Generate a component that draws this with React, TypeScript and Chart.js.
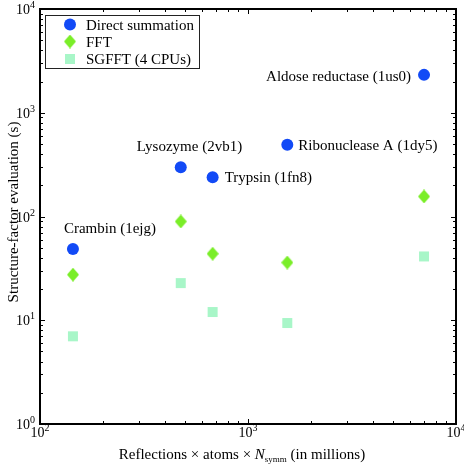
import React, { useEffect, useRef } from 'react';
import { Chart, registerables } from 'chart.js';

Chart.register(...registerables);

// ---- data ----
const proteins = ['Crambin (1ejg)', 'Lysozyme (2vb1)', 'Trypsin (1fn8)', 'Ribonuclease A (1dy5)', 'Aldose reductase (1us0)'];
const workload = [144, 475, 676, 1545, 7020]; // reflections × atoms × Nsymm (millions)
const directSummation = [48.5, 298, 239, 492, 2318];
const fft = [27.5, 89.5, 43.8, 36, 156];
const sgfft = [7.0, 22.8, 12.0, 9.4, 41.2];

const seriesNames = ['Direct summation', 'FFT', 'SGFFT (4 CPUs)'];

const xDecades = [100, 1000, 10000];
const xExponents = ['2', '3', '4'];
const yDecades = [1, 10, 100, 1000, 10000];
const yExponents = ['0', '1', '2', '3', '4'];
const minorSteps = [2, 3, 4, 5, 6, 7, 8, 9];

const yTitle = 'Structure-factor evaluation (s)';
const xTitleParts = [
  { text: 'Reflections × atoms × ', style: 'normal' },
  { text: 'N', style: 'italic' },
  { text: 'symm', style: 'sub' },
  { text: ' (in millions)', style: 'normal' },
];

// ---- styles ----
const FONT = '"Liberation Serif", "Times New Roman", serif';
const BLUE = 'rgb(18,74,246)';
const GREEN = 'rgb(122,238,40)';
const MINT = 'rgb(168,246,200)';

const labelPlacement = [
  { dx: -9, dy: -21, align: 'left' },
  { dx: -44, dy: -21, align: 'left' },
  { dx: 12, dy: 0, align: 'left' },
  { dx: 11, dy: 0, align: 'left' },
  { dx: -13, dy: 1, align: 'right' },
];

function makeDiamond(color: string) {
  const c = document.createElement('canvas');
  c.width = 12;
  c.height = 14;
  const g = c.getContext('2d')!;
  g.fillStyle = color;
  g.beginPath();
  g.moveTo(6, 0);
  g.lineTo(12, 7);
  g.lineTo(6, 14);
  g.lineTo(0, 7);
  g.closePath();
  g.fill();
  return c;
}

function drawPow(ctx: CanvasRenderingContext2D, exp: string, x: number, baseY: number, align: 'center' | 'right', supRaise: number) {
  ctx.font = `14px ${FONT}`;
  const w1 = ctx.measureText('10').width;
  ctx.font = `10px ${FONT}`;
  const w2 = ctx.measureText(exp).width;
  const total = w1 + w2;
  const start = align === 'center' ? x - total / 2 : x - total;
  ctx.textAlign = 'left';
  ctx.textBaseline = 'alphabetic';
  ctx.font = `14px ${FONT}`;
  ctx.fillText('10', start, baseY);
  ctx.font = `10px ${FONT}`;
  ctx.fillText(exp, start + w1, baseY - supRaise);
}

const overlay = {
  id: 'overlay',
  afterDraw(chart: any) {
    const { ctx, chartArea: a, scales } = chart;
    const xs = scales.x;
    const ys = scales.y;
    ctx.save();
    ctx.fillStyle = '#000';
    ctx.strokeStyle = '#000';

    // tick marks (inward, all four sides)
    ctx.lineWidth = 1;
    const majorLen = 5;
    const minorLen = 3;
    const xTicks: { v: number; major: boolean }[] = [];
    xDecades.forEach((d) => {
      xTicks.push({ v: d, major: true });
      minorSteps.forEach((m) => {
        if (d * m < xDecades[xDecades.length - 1]) xTicks.push({ v: d * m, major: false });
      });
    });
    const yTicks: { v: number; major: boolean }[] = [];
    yDecades.forEach((d) => {
      yTicks.push({ v: d, major: true });
      minorSteps.forEach((m) => {
        if (d * m < yDecades[yDecades.length - 1]) yTicks.push({ v: d * m, major: false });
      });
    });
    ctx.beginPath();
    xTicks.forEach((t) => {
      const px = Math.round(xs.getPixelForValue(t.v)) + 0.5;
      const len = t.major ? majorLen : minorLen;
      ctx.moveTo(px, a.bottom);
      ctx.lineTo(px, a.bottom - len);
      ctx.moveTo(px, a.top);
      ctx.lineTo(px, a.top + len);
    });
    yTicks.forEach((t) => {
      const py = Math.round(ys.getPixelForValue(t.v)) + 0.5;
      const len = t.major ? majorLen : minorLen;
      ctx.moveTo(a.left, py);
      ctx.lineTo(a.left + len, py);
      ctx.moveTo(a.right, py);
      ctx.lineTo(a.right - len, py);
    });
    ctx.stroke();

    // frame
    ctx.lineWidth = 2;
    ctx.strokeRect(a.left, a.top, a.right - a.left, a.bottom - a.top);

    // tick labels
    xDecades.forEach((d, i) => {
      drawPow(ctx, xExponents[i], xs.getPixelForValue(d), a.bottom + 13, 'center', 6);
    });
    yDecades.forEach((d, i) => {
      drawPow(ctx, yExponents[i], a.left - 5, ys.getPixelForValue(d) + 5, 'right', 6);
    });

    // axis titles
    ctx.textBaseline = 'alphabetic';
    ctx.textAlign = 'left';
    const widths = xTitleParts.map((p) => {
      ctx.font = p.style === 'sub' ? `9px ${FONT}` : p.style === 'italic' ? `italic 15px ${FONT}` : `15px ${FONT}`;
      return ctx.measureText(p.text).width;
    });
    const totalW = widths.reduce((s, w) => s + w, 0);
    let cx = (a.left + a.right) / 2 - 6 - totalW / 2;
    const tb = 459;
    xTitleParts.forEach((p, i) => {
      ctx.font = p.style === 'sub' ? `9px ${FONT}` : p.style === 'italic' ? `italic 15px ${FONT}` : `15px ${FONT}`;
      ctx.fillText(p.text, cx, p.style === 'sub' ? tb + 3 : tb);
      cx += widths[i];
    });

    ctx.save();
    ctx.translate(18, 212);
    ctx.rotate(-Math.PI / 2);
    ctx.font = `15px ${FONT}`;
    ctx.textAlign = 'center';
    ctx.fillText(yTitle, 0, 0);
    ctx.restore();

    // point annotations
    ctx.font = `15px ${FONT}`;
    proteins.forEach((name, i) => {
      const px = xs.getPixelForValue(workload[i]);
      const py = ys.getPixelForValue(directSummation[i]);
      const p = labelPlacement[i];
      ctx.textAlign = p.align;
      ctx.fillText(name, px + p.dx, py + p.dy + 5);
    });

    // legend
    const lx = 45.5, ly = 15.5, lw = 154, lh = 53;
    ctx.fillStyle = '#fff';
    ctx.fillRect(lx, ly, lw, lh);
    ctx.lineWidth = 1;
    ctx.strokeStyle = '#222';
    ctx.strokeRect(lx, ly, lw, lh);
    const ds = chart.data.datasets;
    const rows = [24.5, 41.5, 59];
    ctx.font = `15px ${FONT}`;
    ctx.textAlign = 'left';
    seriesNames.forEach((n, i) => {
      const mx = 70;
      const my = rows[i];
      const d = ds[i];
      if (d.pointStyle === 'circle') {
        ctx.fillStyle = d.backgroundColor;
        ctx.beginPath();
        ctx.arc(mx, my, d.pointRadius, 0, Math.PI * 2);
        ctx.fill();
      } else if (d.pointStyle === 'rect') {
        ctx.fillStyle = d.backgroundColor;
        const s = d.pointRadius * Math.SQRT1_2;
        ctx.fillRect(mx - s, my - s, 2 * s, 2 * s);
      } else {
        const img = d.pointStyle as HTMLCanvasElement;
        ctx.drawImage(img, mx - img.width / 2, my - img.height / 2);
      }
      ctx.fillStyle = '#000';
      ctx.fillText(n, 86, my + 5);
    });

    ctx.restore();
  },
};

export default function App() {
  const ref = useRef<HTMLCanvasElement>(null);
  useEffect(() => {
    document.body.style.margin = '0';
    const canvas = ref.current!;
    const diamond = makeDiamond(GREEN);
    const chart = new Chart(canvas, {
      type: 'scatter',
      data: {
        datasets: [
          {
            label: seriesNames[0],
            data: workload.map((x, i) => ({ x, y: directSummation[i] })),
            pointStyle: 'circle',
            pointRadius: 6,
            backgroundColor: BLUE,
            borderWidth: 0,
          },
          {
            label: seriesNames[1],
            data: workload.map((x, i) => ({ x, y: fft[i] })),
            pointStyle: diamond as any,
            pointRadius: 7,
            backgroundColor: GREEN,
            borderWidth: 0,
          },
          {
            label: seriesNames[2],
            data: workload.map((x, i) => ({ x, y: sgfft[i] })),
            pointStyle: 'rect',
            pointRadius: 7.07,
            backgroundColor: MINT,
            borderWidth: 0,
          },
        ],
      },
      options: {
        responsive: false,
        animation: false,
        events: [],
        layout: { padding: { top: 9, right: 8, left: 0, bottom: 0 } },
        plugins: { legend: { display: false }, tooltip: { enabled: false } },
        scales: {
          x: {
            type: 'logarithmic',
            min: 100,
            max: 10000,
            grid: { display: false, drawTicks: false },
            border: { display: false },
            ticks: { display: false },
            afterBuildTicks: (s: any) => {
              s.ticks = xDecades.map((v) => ({ value: v, major: true }));
            },
            afterFit: (s: any) => {
              s.height = 43;
            },
          },
          y: {
            type: 'logarithmic',
            min: 1,
            max: 10000,
            grid: { display: false, drawTicks: false },
            border: { display: false },
            ticks: { display: false },
            afterBuildTicks: (s: any) => {
              s.ticks = yDecades.map((v) => ({ value: v, major: true }));
            },
            afterFit: (s: any) => {
              s.width = 40;
            },
          },
        },
      },
      plugins: [overlay],
    } as any);
    return () => chart.destroy();
  }, []);
  return (
    <div style={{ width: 464, height: 467, background: '#fff' }}>
      <canvas ref={ref} width={464} height={467} style={{ display: 'block' }} />
    </div>
  );
}
